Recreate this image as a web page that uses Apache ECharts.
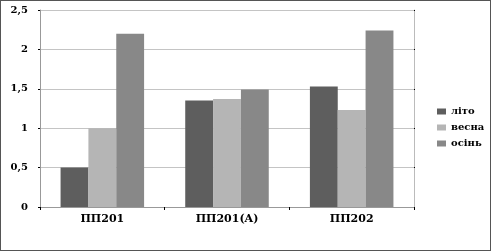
<!DOCTYPE html>
<html><head><meta charset="utf-8">
<script src="https://cdn.jsdelivr.net/npm/echarts@6/dist/echarts.min.js"></script>
<style>
html,body{margin:0;padding:0;background:#fff;}
#c{width:491px;height:251px;box-sizing:border-box;border:1px solid #555;}
</style></head>
<body><div id="c"></div>
<script>
const categories = ['ПП201', 'ПП201(A)', 'ПП202'];
const seriesNames = ['літо', 'весна', 'осінь'];
const summer = [0.5, 1.35, 1.53];
const spring = [1.0, 1.37, 1.23];
const autumn = [2.2, 1.49, 2.24];
const yTicks = ['0', '0,5', '1', '1,5', '2', '2,5'];
const colors = ['#5e5e5e', '#b5b5b5', '#888888'];

const font = '"DejaVu Serif", "Liberation Serif", serif';
const chart = echarts.init(document.getElementById('c'));
chart.setOption({
  animation: false,
  grid: {left: 39, right: 76, top: 9, bottom: 43},
  legend: {
    orient: 'vertical', left: 431, top: 100,
    itemWidth: 9, itemHeight: 6, itemGap: 5,
    icon: 'rect',
    textStyle: {fontFamily: font, fontWeight: 'bold', fontSize: 10, lineHeight: 11, color: '#000'},
    data: seriesNames
  },
  xAxis: {
    type: 'category', data: categories,
    axisLine: {lineStyle: {color: '#999', width: 1}},
    axisTick: {show: true, length: 3, lineStyle: {color: '#000'}},
    axisLabel: {fontFamily: font, fontWeight: 'bold', fontSize: 11, color: '#000', margin: 7}
  },
  yAxis: [{
    type: 'value', min: 0, max: 2.5, interval: 0.5,
    axisLine: {show: true, lineStyle: {color: '#999'}},
    axisTick: {show: true, length: 2, lineStyle: {color: '#000'}},
    splitLine: {lineStyle: {color: '#c4c4c4'}},
    axisLabel: {fontFamily: font, fontWeight: 'bold', fontSize: 10, color: '#000', margin: 12,
      formatter: v => yTicks[Math.round(v / 0.5)]}
  }, {
    type: 'value', min: 0, max: 2.5, interval: 0.5, position: 'right',
    axisLine: {show: true, lineStyle: {color: '#bbb'}},
    axisTick: {show: true, inside: false, length: 1, lineStyle: {color: '#000'}},
    splitLine: {show: false},
    axisLabel: {show: false}
  }],
  series: [
    {name: seriesNames[0], type: 'bar', data: summer, itemStyle: {color: colors[0]}, barGap: '0%', barCategoryGap: '33%'},
    {name: seriesNames[1], type: 'bar', data: spring, itemStyle: {color: colors[1]}, barGap: '0%', barCategoryGap: '33%'},
    {name: seriesNames[2], type: 'bar', data: autumn, itemStyle: {color: colors[2]}, barGap: '0%', barCategoryGap: '33%'}
  ]
});
</script></body></html>
